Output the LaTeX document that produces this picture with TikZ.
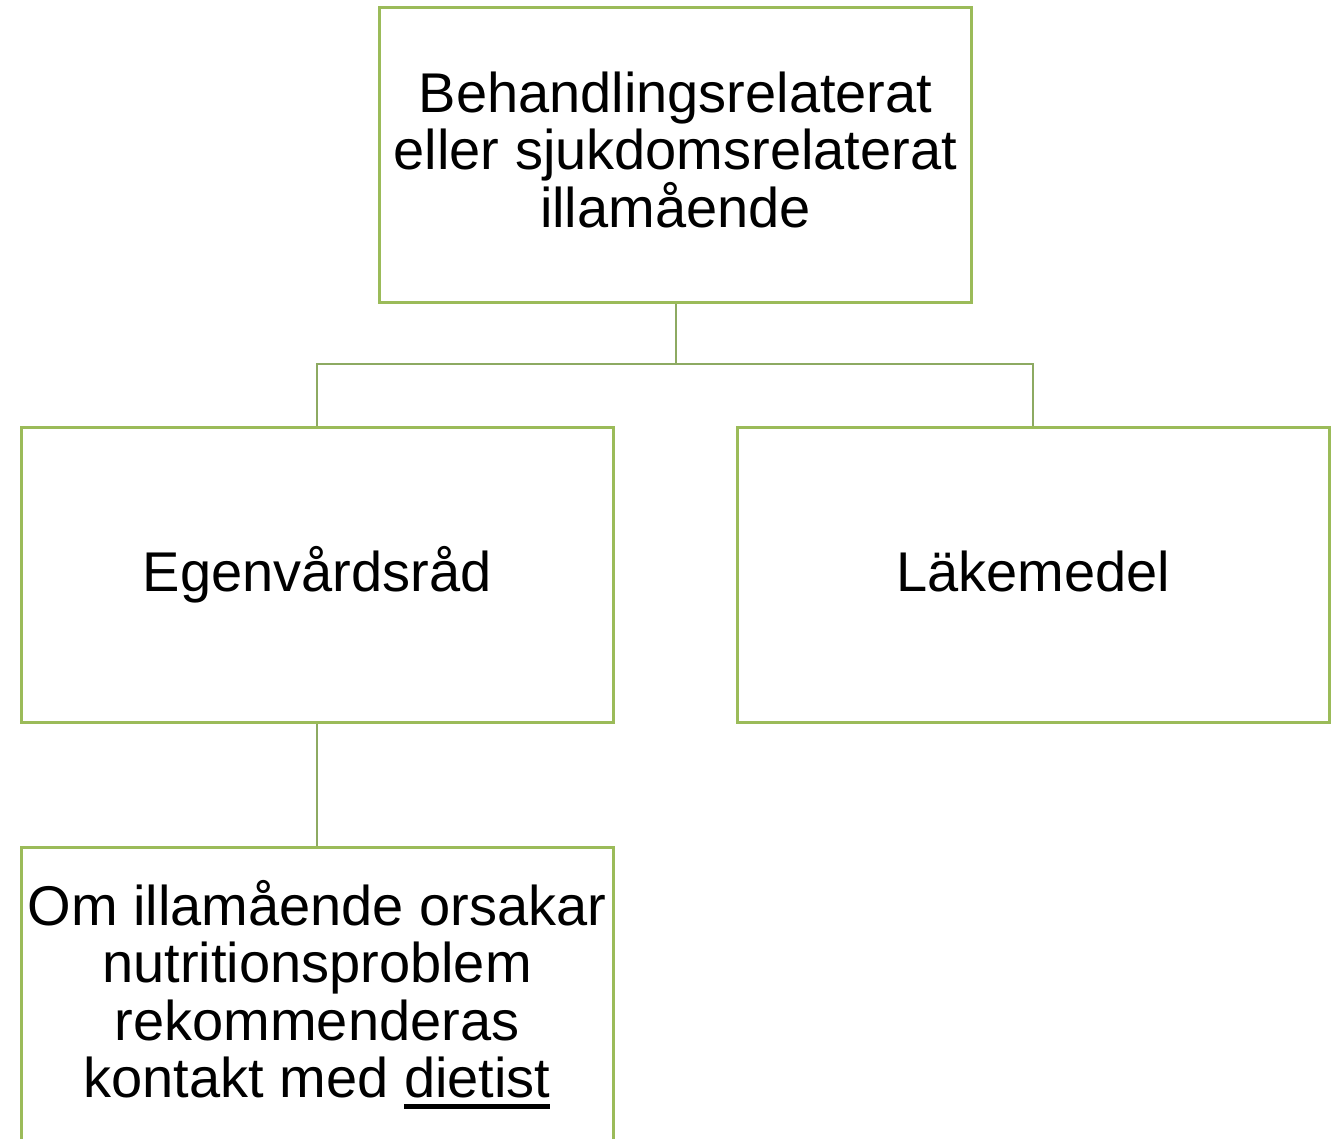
\documentclass[tikz,border=0pt]{standalone}
\usepackage{fontspec}
\setmainfont{Liberation Sans}
\definecolor{boxgreen}{HTML}{9BBB59}
\definecolor{linkgreen}{HTML}{8DAA62}
% underline with a heavier rule set a little below the baseline
\newcommand\thickul[1]{\leavevmode\setbox0\hbox{#1}\rlap{\raisebox{-11pt}{\rule{\wd0}{4.5pt}}}\box0}
\begin{document}
\begin{tikzpicture}[x=1pt,y=-1pt,
  box/.style={draw=boxgreen, line width=3pt, minimum width=592pt, minimum height=295pt,
    inner sep=0pt},
  txt/.style={inner sep=0pt, align=center, font=\fontsize{56}{57.5}\selectfont},
  link/.style={draw=linkgreen, line width=2pt}]
\clip (0,0) rectangle (1335,1138);
\fill[white] (0,0) rectangle (1335,1138);
% boxes
\node[box] (top) at (675.5,154.5) {};
\node[box] (self) at (317,574.5) {};
\node[box] (drug) at (1033,574.5) {};
\node[box] (diet) at (317,994.5) {};
% box texts
\node[txt, yshift=5pt] (toptext) at (top.center) {Behandlingsrelaterat\\eller sjukdomsrelaterat\\illamående};
\node[txt, anchor=base, yshift=-16.5pt] (selftext) at (self.center) {Egenvårdsråd};
\node[txt, anchor=base, yshift=-16.5pt] (drugtext) at (drug.center) {Läkemedel};
\node[txt] (diettext) at (diet.center) {Om illamående orsakar\\nutritionsproblem\\rekommenderas\\kontakt med \thickul{dietist}};
% connectors
\coordinate (split) at (675.5,364);
\draw[link] (top.south) -- (split);
\draw[link] (self.north) |- (split) -| (drug.north);
\draw[link] (self.south) -- (diet.north);
\end{tikzpicture}
\end{document}
